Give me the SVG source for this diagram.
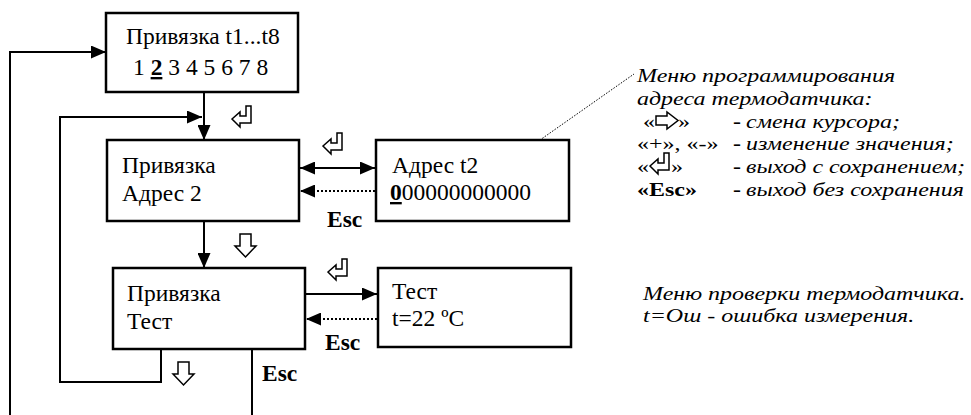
<svg xmlns="http://www.w3.org/2000/svg" width="971" height="415" viewBox="0 0 971 415">
<style>
.box{fill:#fff;stroke:#000;stroke-width:2.5}
.t{font-family:"Liberation Serif","Times New Roman",serif;font-size:23.5px;fill:#000}
.b{font-weight:bold}
.i{font-style:italic}
.lg{font-family:"Liberation Serif","Times New Roman",serif;font-size:19.5px;fill:#000}
.ln{stroke:#000;stroke-width:2;fill:none}
.dt{stroke:#000;stroke-width:2;fill:none;stroke-dasharray:2 2}
.ic{fill:#fff;stroke:#000;stroke-width:1.5;stroke-linejoin:miter}
</style>
<defs>
<marker id="ah" markerUnits="userSpaceOnUse" markerWidth="15" markerHeight="13" refX="15" refY="6.5" orient="auto-start-reverse"><path d="M0,0 L15,6.5 L0,13 Z" fill="#000"/></marker>
<path id="enter" d="M0,13 L8,6 L8,10 L14,10 L14,0 L19,0 L19,17 L8,17 L8,21 Z"/>
<path id="down" d="M5,0 H16 V12 H21 L10.5,23 L0,12 H5 Z"/>
<path id="right" d="M0,4 H11 V0 L22,8.5 L11,17 V13 H0 Z"/>
</defs>
<g id="connectors">
<polyline class="ln" points="10,415 10,52 106,52" marker-end="url(#ah)"/>
<line class="ln" x1="204" y1="92" x2="204" y2="140" marker-end="url(#ah)"/>
<polyline class="ln" points="161,349 161,382 60,382 60,117 202,117" marker-end="url(#ah)"/>
<line class="ln" x1="252" y1="349" x2="252" y2="415"/>
<line class="ln" x1="204" y1="221" x2="204" y2="268" marker-end="url(#ah)"/>
<line class="ln" x1="300" y1="168" x2="375" y2="168" marker-start="url(#ah)" marker-end="url(#ah)"/>
<line class="dt" x1="375" y1="191" x2="300" y2="191" marker-end="url(#ah)"/>
<line class="ln" x1="306" y1="294" x2="377" y2="294" marker-end="url(#ah)"/>
<line class="dt" x1="377" y1="319" x2="306" y2="319" marker-end="url(#ah)"/>
<line x1="530" y1="147" x2="634" y2="74" stroke="#000" stroke-width="1" stroke-dasharray="1.5 1.5"/>
<use href="#enter" class="ic" x="232" y="106"/>
<use href="#enter" class="ic" x="323" y="133"/>
<use href="#enter" class="ic" x="328" y="259"/>
<use href="#down" class="ic" x="235" y="234"/>
<use href="#down" class="ic" x="173" y="362"/>
<text class="t b" x="327" y="227">Esc</text>
<text class="t b" x="325" y="350">Esc</text>
<text class="t b" x="262" y="381">Esc</text>
</g>
<g id="node-binding">
<rect class="box" x="106" y="13" width="192" height="79"/>
<text class="t" x="126" y="44">Привязка t1...t8</text>
<text class="t" x="133" y="75">1 <tspan class="b" text-decoration="underline">2</tspan> 3 4 5 6 7 8</text>
</g>
<g id="node-address">
<rect class="box" x="107" y="140" width="192" height="81"/>
<text class="t" x="122" y="173">Привязка</text>
<text class="t" x="122" y="201">Адрес 2</text>
</g>
<g id="node-test">
<rect class="box" x="113" y="268" width="192" height="81"/>
<text class="t" x="127" y="301">Привязка</text>
<text class="t" x="127" y="329">Тест</text>
</g>
<g id="node-address-t2">
<rect class="box" x="376" y="140" width="193" height="81"/>
<text class="t" x="392" y="173">Адрес t2</text>
<text class="t" x="390" y="200"><tspan class="b" text-decoration="underline">0</tspan>00000000000</text>
</g>
<g id="node-test-value">
<rect class="box" x="378" y="268" width="193" height="79"/>
<text class="t" x="392" y="299">Тест</text>
<text class="t" x="392" y="326">t=22 ºC</text>
</g>
<g id="legend-address">
<text class="lg i" transform="translate(637,82) scale(1.23,1)">Меню программирования</text>
<text class="lg i" transform="translate(637,105) scale(1.23,1)">адреса термодатчика:</text>
<text class="lg" transform="translate(643,128) scale(1.23,1)">«</text>
<use href="#right" class="ic" x="656" y="112"/>
<text class="lg" transform="translate(678,128) scale(1.23,1)">»</text>
<text class="lg b" transform="translate(733,128) scale(1.23,1)">-</text>
<text class="lg i" transform="translate(746,128) scale(1.23,1)">смена курсора;</text>
<text class="lg" transform="translate(637,150) scale(1.23,1)">«+», «-»</text>
<text class="lg b" transform="translate(733,150) scale(1.23,1)">-</text>
<text class="lg i" transform="translate(746,150) scale(1.23,1)">изменение значения;</text>
<text class="lg" transform="translate(637,173) scale(1.23,1)">«</text>
<use href="#enter" class="ic" x="650" y="153"/>
<text class="lg" transform="translate(671,173) scale(1.23,1)">»</text>
<text class="lg b" transform="translate(733,173) scale(1.23,1)">-</text>
<text class="lg i" transform="translate(746,173) scale(1.23,1)">выход с сохранением;</text>
<text class="lg b" transform="translate(637,196) scale(1.23,1)">«Esc»</text>
<text class="lg b" transform="translate(733,196) scale(1.23,1)">-</text>
<text class="lg i" transform="translate(746,196) scale(1.23,1)">выход без сохранения</text>
</g>
<g id="legend-test">
<text class="lg i" transform="translate(643,300) scale(1.23,1)">Меню проверки термодатчика.</text>
<text class="lg i" transform="translate(643,322) scale(1.23,1)">t=Ош -  ошибка измерения.</text>
</g>
</svg>
